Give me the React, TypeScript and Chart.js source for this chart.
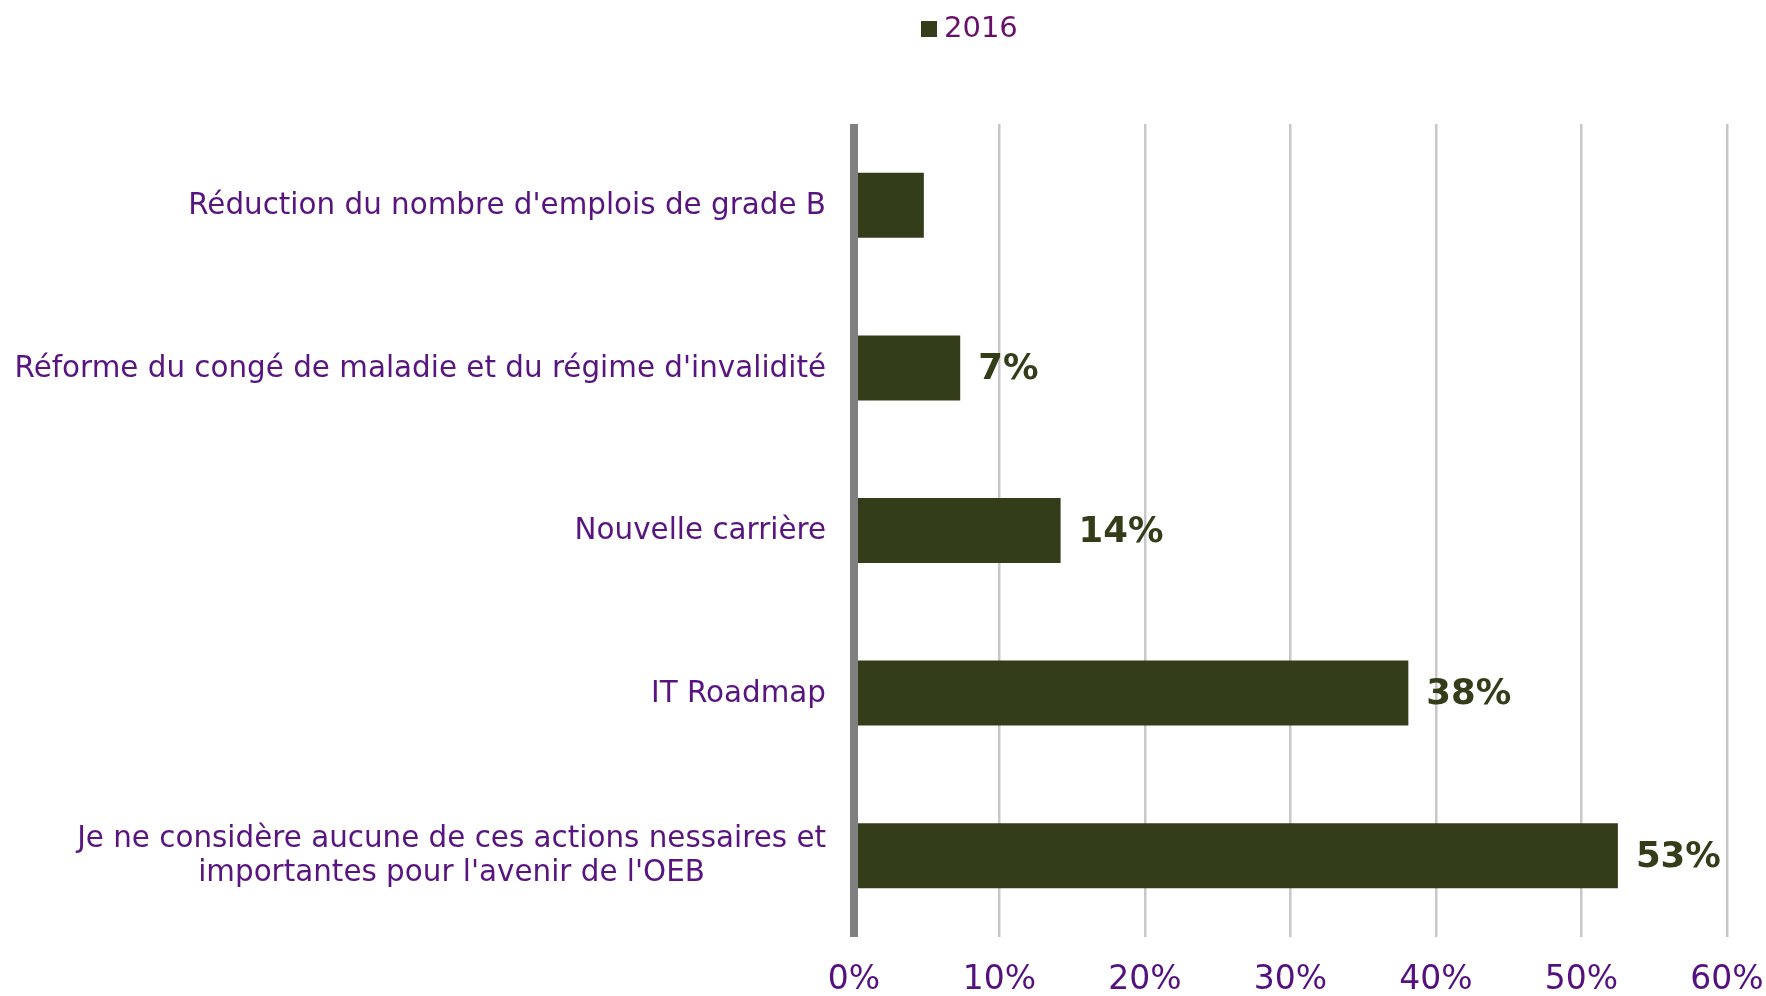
import React, { useEffect, useRef } from "react";
import { Chart, registerables } from "chart.js";

Chart.register(...registerables);

const categories: (string | string[])[] = [
  "Réduction du nombre d'emplois de grade B",
  "Réforme du congé de maladie et du régime d'invalidité",
  "Nouvelle carrière",
  "IT Roadmap",
  ["Je ne considère aucune de ces actions nessaires et", "importantes pour l'avenir de l'OEB"],
];
const seriesName = "2016";
const values2016 = [4.8, 7.3, 14.2, 38.1, 52.5];
const valueLabels = ["", "7%", "14%", "38%", "53%"];
const xMin = 0;
const xMax = 60;
const xStep = 10;

const BAR_COLOR = "#333D1A";
const CAT_COLOR = "#58157F";
const TICK_COLOR = "#53127E";
const LEGEND_COLOR = "#680F6B";
const AXIS_COLOR = "#808080";
const FONT = "'DejaVu Sans', Verdana, sans-serif";

const legendPlugin = {
  id: "customLegend",
  afterDraw(chart: any) {
    const ctx = chart.ctx;
    const ds = chart.data.datasets[0];
    ctx.save();
    const boxX = 921;
    const cy = 29;
    ctx.fillStyle = ds.backgroundColor;
    ctx.fillRect(boxX, cy - 8, 16, 16);
    ctx.font = `29px ${FONT}`;
    ctx.fillStyle = LEGEND_COLOR;
    ctx.textAlign = "left";
    ctx.textBaseline = "middle";
    ctx.fillText(ds.label, boxX + 23, cy);
    ctx.restore();
  },
};

const yLabelPlugin = {
  id: "yLabels",
  afterDraw(chart: any) {
    const ctx = chart.ctx;
    const yScale = chart.scales.y;
    const right = chart.chartArea.left - 28;
    const lineH = 34;
    ctx.save();
    ctx.font = `29.4px ${FONT}`;
    ctx.fillStyle = CAT_COLOR;
    ctx.textBaseline = "middle";
    ctx.textAlign = "center";
    (chart.data.labels as (string | string[])[]).forEach((lab, i) => {
      const lines = Array.isArray(lab) ? lab : [lab];
      const maxW = Math.max(...lines.map((l) => ctx.measureText(l).width));
      const cx = right - maxW / 2;
      const yc = yScale.getPixelForValue(i) + 1;
      const y0 = yc - ((lines.length - 1) * lineH) / 2;
      lines.forEach((l, k) => ctx.fillText(l, cx, y0 + k * lineH));
    });
    ctx.restore();
  },
};

const valueLabelPlugin = {
  id: "valueLabels",
  afterDatasetsDraw(chart: any) {
    const ctx = chart.ctx;
    const area = chart.chartArea;
    ctx.save();
    // vertical category axis line
    ctx.fillStyle = AXIS_COLOR;
    ctx.fillRect(area.left - 4, area.top, 8, area.bottom - area.top);
    const meta = chart.getDatasetMeta(0);
    ctx.font = `bold 35.5px ${FONT}`;
    ctx.fillStyle = BAR_COLOR;
    ctx.textAlign = "left";
    ctx.textBaseline = "middle";
    meta.data.forEach((bar: any, i: number) => {
      const t = valueLabels[i];
      if (!t) return;
      ctx.fillText(t, bar.x + 18, bar.y + 2);
    });
    ctx.restore();
  },
};

export default function App() {
  const ref = useRef<HTMLCanvasElement | null>(null);
  useEffect(() => {
    document.body.style.margin = "0";
    const canvas = ref.current!;
    const chart = new Chart(canvas, {
      type: "bar",
      data: {
        labels: categories as any,
        datasets: [
          {
            label: seriesName,
            data: values2016,
            backgroundColor: BAR_COLOR,
            borderWidth: 0,
            barPercentage: 0.4,
            categoryPercentage: 1,
          },
        ],
      },
      options: {
        indexAxis: "y",
        responsive: false,
        animation: false,
        layout: { padding: { top: 124, right: 39, left: 0, bottom: 0 } },
        plugins: {
          legend: { display: false },
          tooltip: { enabled: false },
        },
        scales: {
          x: {
            min: xMin,
            max: xMax,
            ticks: {
              stepSize: xStep,
              callback: (v: any) => `${v}%`,
              color: TICK_COLOR,
              font: { family: FONT, size: 33 },
              padding: 24,
            },
            grid: { color: "#C8C8C8", lineWidth: 2.5, drawTicks: false },
            border: { display: false },
            afterFit: (s: any) => {
              s.height = 59;
              s.paddingLeft = 0;
              s.paddingRight = 0;
              s.paddingTop = 0;
              s.paddingBottom = 0;
            },
          },
          y: {
            ticks: { display: false },
            grid: { display: false, drawTicks: false },
            border: { display: false },
            afterFit: (s: any) => {
              s.width = 854;
              s.paddingTop = 0;
              s.paddingBottom = 0;
              s.paddingLeft = 0;
              s.paddingRight = 0;
            },
          },
        },
      },
      plugins: [legendPlugin, yLabelPlugin, valueLabelPlugin],
    });
    return () => chart.destroy();
  }, []);
  return (
    <div style={{ position: "absolute", left: 0, top: 0, width: 1766, height: 996 }}>
      <canvas ref={ref} width={1766} height={996} />
    </div>
  );
}
